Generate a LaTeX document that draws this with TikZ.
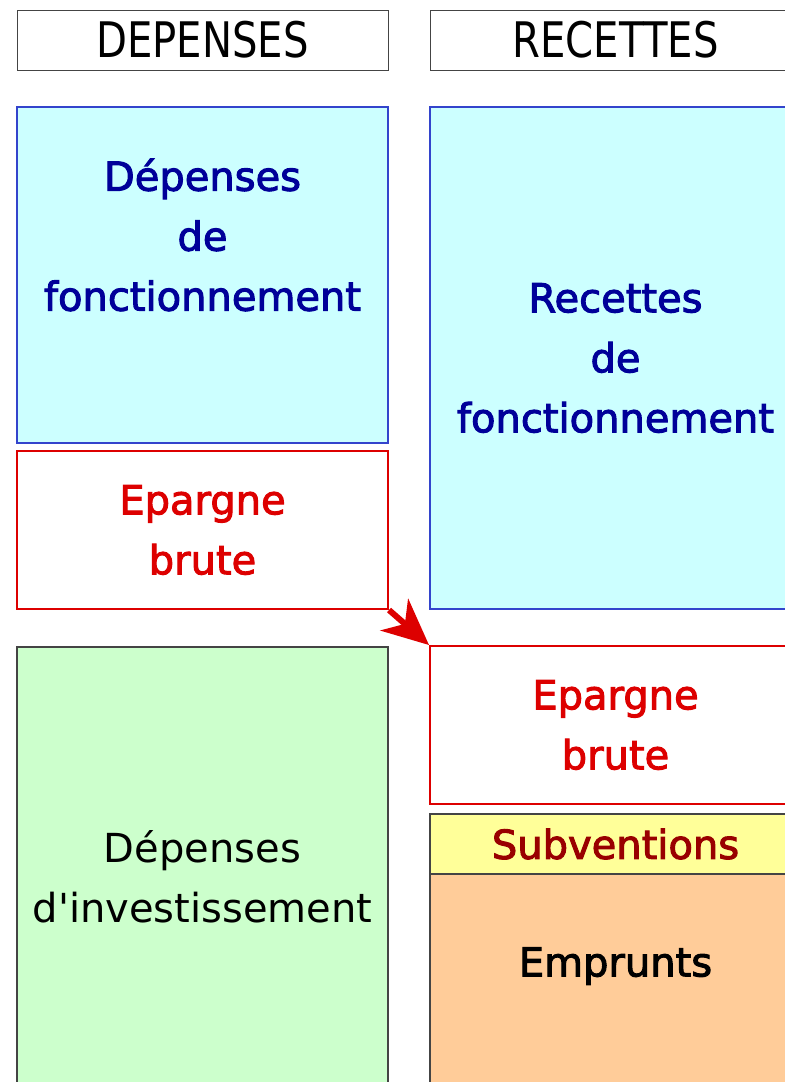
\documentclass[tikz,border=0pt]{standalone}
\usepackage{fontspec}
\setmainfont{DejaVu Sans}
\newfontfamily\headfont[FakeStretch=0.82]{DejaVu Sans}
\newfontfamily\medfont[FakeBold=2.5]{DejaVu Sans}
\usepackage{tikz}
\usetikzlibrary{arrows.meta}
\usetikzlibrary{positioning}

\definecolor{foncfill}{HTML}{CCFFFF}
\definecolor{foncline}{HTML}{3344CC}
\definecolor{fonctext}{HTML}{000099}
\definecolor{epared}{HTML}{DD0000}
\definecolor{invfill}{HTML}{CCFFCC}
\definecolor{subvfill}{HTML}{FFFF99}
\definecolor{subvtext}{HTML}{990000}
\definecolor{emprfill}{HTML}{FFCC99}
\definecolor{boxline}{HTML}{444444}

\begin{document}
\begin{tikzpicture}[x=0.5pt,y=-0.5pt,
  every node/.style={rectangle,inner sep=0pt,align=center,minimum width=185.5pt,
    font=\medfont\fontsize{20}{30}\selectfont},
  headbox/.style={draw=boxline,line width=0.5pt,minimum height=30pt,
    font=\headfont\fontsize{24.5}{30}\selectfont},
  foncbox/.style={draw=foncline,fill=foncfill,line width=0.7pt,text=fonctext},
  eparbox/.style={draw=epared,fill=white,line width=1pt,text=epared,minimum height=79pt},
  invbox/.style={draw=boxline,fill=invfill,line width=0.7pt,
    font=\fontsize{20}{30}\selectfont},
  subvbox/.style={draw=boxline,fill=subvfill,line width=0.6pt,text=subvtext,minimum height=30pt},
  emprbox/.style={draw=boxline,fill=emprfill,line width=0.6pt},
  plain/.style={minimum width=0pt,draw=none,fill=none}]
  \useasboundingbox (0,0) rectangle (785,1082);
  \clip (0,0) rectangle (785,1082);
  \node[headbox] (dep) at (202.5,40) {DEPENSES};
  \node[headbox] (rec) at (615.5,40) {RECETTES};
  \node[foncbox,minimum height=168pt] (dfonc) at (202.5,275) {};
  \node[plain,text=fonctext] (dfonctxt) at (202.5,235) {Dépenses\\de\\fonctionnement};
  \node[foncbox,minimum height=251pt] (rfonc) at (615.5,358) {Recettes\\de\\fonctionnement};
  \node[eparbox] (lepar) at (202.5,530) {Epargne\\brute};
  \node[eparbox] (repar) at (615.5,725) {Epargne\\brute};
  \node[invbox,minimum height=230pt] (dinv) at (202.5,877) {Dépenses\\d\textquotesingle investissement};
  \node[emprbox,minimum height=116.5pt] (empr) at (615.5,990.5) {};
  \node[plain] (emprtxt) at (615.5,966) {Emprunts};
  \node[subvbox] (subv) at (615.5,844) {Subventions};
  \draw[-{Stealth[length=23pt,width=21pt,inset=7pt]},line width=3pt,epared]
    (lepar.south east)--(repar.north west);
\end{tikzpicture}
\end{document}
